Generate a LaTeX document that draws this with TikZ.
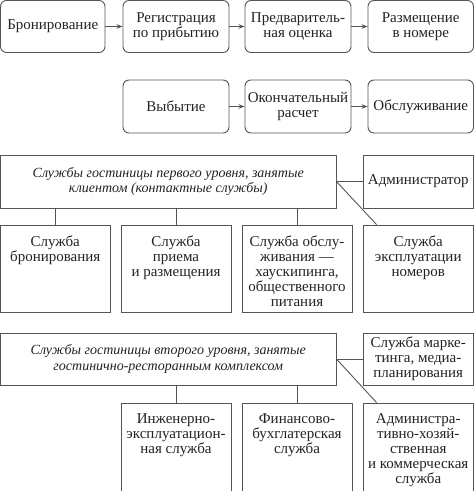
\documentclass[tikz,border=0pt]{standalone}
\usepackage{fontspec}
\setmainfont{Liberation Serif}
\usetikzlibrary{calc,arrows.meta}
\definecolor{ln}{HTML}{555555}
\definecolor{tx}{HTML}{222222}
\tikzset{
  rbox/.style={draw=ln, line width=0.9pt, rounded corners=6pt, inner sep=0pt, align=center, text=tx,
    font=\fontsize{15}{15}\selectfont},
  sbox/.style={draw=ln, line width=0.9pt, inner sep=0pt, align=center, text=tx,
    font=\fontsize{15}{15}\selectfont},
  ibox/.style={sbox, font=\fontsize{14}{15.5}\selectfont\itshape},
  lbl/.style={inner sep=0pt, align=center, anchor=north, text=tx, font=\fontsize{15}{15}\selectfont},
  arr/.style={draw=ln, line width=0.9pt, -{Stealth[length=6pt,width=4.5pt]}},
  con/.style={draw=ln, line width=0.9pt}
}
\begin{document}
\begin{tikzpicture}[x=1pt,y=-1pt]
\useasboundingbox (0,0) rectangle (474,491);
% row 1
\node[rbox, minimum width=104.5pt, minimum height=52pt] (a1) at (52.75,26.5) {Бронирование};
\node[rbox, minimum width=106pt, minimum height=52pt] (a2) at (176,26.5) {Регистрация\\по прибытию};
\node[rbox, minimum width=106pt, minimum height=52pt] (a3) at (298,26.5) {Предваритель-\\ная оценка};
\node[rbox, minimum width=105.5pt, minimum height=52pt] (a4) at (420.75,26.5) {Размещение\\в номере};
\draw[arr] (a1) -- (a2);
\draw[arr] (a2) -- (a3);
\draw[arr] (a3) -- (a4);
% row 2
\node[rbox, minimum width=106pt, minimum height=53pt] (c1) at (176,106.5) {Выбытие};
\node[rbox, minimum width=106pt, minimum height=53pt] (c2) at (298,106.5) {Окончательный\\расчет};
\node[rbox, minimum width=105.5pt, minimum height=53pt] (c3) at (420.75,106.5) {Обслуживание};
\draw[arr] (c1) -- (c2);
\draw[arr] (c2) -- (c3);
% section 2
\node[ibox, minimum width=335.5pt, minimum height=53pt] (s1) at (168.25,181.5) {Службы гостиницы первого уровня, занятые\\клиентом (контактные службы)};
\node[sbox, minimum width=110.5pt, minimum height=53pt] (adm) at (418.25,181.5) {Администратор};
\node[sbox, minimum width=109.5pt, minimum height=87pt] (l1) at (55.25,268.5) {};
\node[sbox, minimum width=110pt, minimum height=87pt] (l2) at (176,268.5) {};
\node[sbox, minimum width=110pt, minimum height=87pt] (l3) at (297,268.5) {};
\node[sbox, minimum width=110.5pt, minimum height=87pt] (l4) at (418.25,268.5) {};
\node[lbl, below=11pt] (t1) at (l1.north) {Служба\\бронирования};
\node[lbl, below=11pt] (t2) at (l2.north) {Служба\\приема\\и размещения};
\node[lbl, below=11pt] (t3) at (l3.north) {Служба обслу-\\живания —\\хаускипинга,\\общественного\\питания};
\node[lbl, below=11pt] (t4) at (l4.north) {Служба\\эксплуатации\\номеров};
\draw[con] (s1.east) -- (adm.west);
\coordinate (d1) at ($(l4.north west)+(14,0)$);
\draw[con] (s1.east) -- (d1);
\draw[con] (l1.north) -- (l1.north |- s1.south);
\draw[con] (l2.north) -- (l2.north |- s1.south);
\draw[con] (l3.north) -- (l3.north |- s1.south);
% section 3
\node[ibox, minimum width=335.5pt, minimum height=52pt] (s2) at (168.25,359) {Службы гостиницы второго уровня, занятые\\гостинично-ресторанным комплексом};
\node[sbox, minimum width=110.5pt, minimum height=52pt] (mk) at (418.25,359) {Служба марке-\\тинга, медиа-\\планирования};
\node[sbox, minimum width=110pt, minimum height=90pt] (m2) at (176,448) {};
\node[sbox, minimum width=110pt, minimum height=90pt] (m3) at (297,448) {};
\node[sbox, minimum width=110.5pt, minimum height=90pt] (m4) at (418.25,448) {};
\node[lbl, below=11pt] (u2) at (m2.north) {Инженерно-\\эксплуатацион-\\ная служба};
\node[lbl, below=11pt] (u3) at (m3.north) {Финансово-\\бухглатерская\\служба};
\node[lbl, below=11pt] (u4) at (m4.north) {Администра-\\тивно-хозяй-\\ственная\\и коммерческая\\служба};
\draw[con] (s2.east) -- (mk.west);
\coordinate (d2) at ($(m4.north west)+(14,0)$);
\draw[con] (s2.east) -- (d2);
\draw[con] (m2.north) -- (m2.north |- s2.south);
\draw[con] (m3.north) -- (m3.north |- s2.south);
\end{tikzpicture}
\end{document}
